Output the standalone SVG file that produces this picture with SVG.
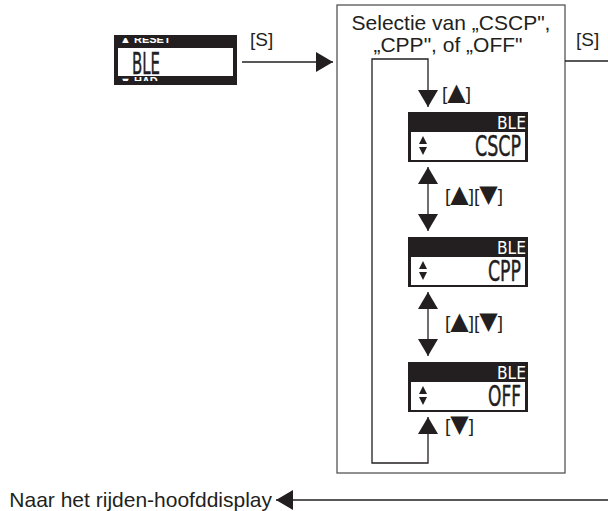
<svg xmlns="http://www.w3.org/2000/svg" width="608" height="511" viewBox="0 0 608 511">
<style>
.lbl{font-family:"Liberation Sans",Arial,sans-serif;font-size:19px;fill:#231f20}
.tri{font-family:"DejaVu Sans",sans-serif;font-size:24px}
.big{font-family:"Liberation Sans",Arial,sans-serif;font-size:21px;fill:#231f20}
.lcd{font-family:"Liberation Sans Narrow","DejaVu Sans Condensed",sans-serif;fill:#231f20;stroke:#231f20;stroke-width:0.45}
.hdr{font-family:"Liberation Sans Narrow","DejaVu Sans Condensed",sans-serif;fill:#fff;font-size:17px}
.strip{font-family:"Liberation Sans","DejaVu Sans",sans-serif;font-weight:bold;font-size:11px;fill:#fff}
.line{fill:none;stroke:#231f20;stroke-width:1.3}
.blk{fill:#231f20}
.wht{fill:#fff}
</style>
<defs>
<marker id="ah" markerUnits="userSpaceOnUse" markerWidth="17" markerHeight="20" viewBox="0 0 17 20" refX="17" refY="10" orient="auto-start-reverse">
<path d="M0,0 L17,10 L0,20 Z" fill="#231f20"/>
</marker>
<clipPath id="ctop"><rect x="114" y="38" width="123" height="5"/></clipPath>
<clipPath id="cbot"><rect x="114" y="76" width="123" height="5"/></clipPath>
</defs>
<rect width="608" height="511" fill="#fff"/>

<g id="selection-box">
<rect x="337" y="5" width="228" height="468" fill="#fff" stroke="#555" stroke-width="1.3"/>
<text class="big" x="451" y="30" text-anchor="middle">Selectie van „CSCP",</text>
<text class="big" x="448" y="52" text-anchor="middle">„CPP", of „OFF"</text>
</g>

<g id="display-ble">
<rect class="blk" x="114" y="35" width="123" height="50"/>
<rect class="wht" x="118" y="48" width="115" height="28"/>
<text class="strip" x="120" y="43" clip-path="url(#ctop)">▲ RESET</text>
<text class="strip" x="120" y="85" clip-path="url(#cbot)">▼ HAD</text>
<text class="lcd" x="132" y="74" font-size="30" textLength="28" lengthAdjust="spacingAndGlyphs">BLE</text>
</g>

<g id="display-cscp">
<rect class="blk" x="408" y="112" width="120" height="50"/>
<rect class="wht" x="411" y="132" width="114" height="28"/>
<text class="hdr" x="497" y="129" textLength="29" lengthAdjust="spacingAndGlyphs">BLE</text>
<polygon class="blk" points="419,144 423,136 427,144"/>
<polygon class="blk" points="419,147 427,147 423,155"/>
<text class="lcd" x="475" y="156" font-size="29" textLength="46" lengthAdjust="spacingAndGlyphs">CSCP</text>
</g>

<g id="display-cpp">
<rect class="blk" x="408" y="237" width="120" height="50"/>
<rect class="wht" x="411" y="257" width="114" height="28"/>
<text class="hdr" x="497" y="254" textLength="29" lengthAdjust="spacingAndGlyphs">BLE</text>
<polygon class="blk" points="419,269 423,261 427,269"/>
<polygon class="blk" points="419,272 427,272 423,280"/>
<text class="lcd" x="488" y="281" font-size="29" textLength="33" lengthAdjust="spacingAndGlyphs">CPP</text>
</g>

<g id="display-off">
<rect class="blk" x="408" y="362" width="120" height="50"/>
<rect class="wht" x="411" y="382" width="114" height="28"/>
<text class="hdr" x="497" y="379" textLength="29" lengthAdjust="spacingAndGlyphs">BLE</text>
<polygon class="blk" points="419,394 423,386 427,394"/>
<polygon class="blk" points="419,397 427,397 423,405"/>
<text class="lcd" x="488" y="406" font-size="29" textLength="33" lengthAdjust="spacingAndGlyphs">OFF</text>
</g>

<g id="connectors">
<path class="line" d="M242,62 H333" marker-end="url(#ah)"/>
<path class="line" d="M428,417 V463 H372 V59 H428 V107" marker-start="url(#ah)" marker-end="url(#ah)"/>
<path class="line" d="M428,167 V231" marker-start="url(#ah)" marker-end="url(#ah)"/>
<path class="line" d="M428,292 V356" marker-start="url(#ah)" marker-end="url(#ah)"/>
<path class="line" d="M565,61 H608"/>
<path class="line" d="M608,500 H276" marker-end="url(#ah)"/>
<text class="lbl" x="250" y="46">[S]</text>
<text class="lbl" x="576" y="46">[S]</text>
<text class="lbl" x="442" y="100">[<tspan class="tri">▲</tspan>]</text>
<text class="lbl" x="445" y="202">[<tspan class="tri">▲</tspan>][<tspan class="tri">▼</tspan>]</text>
<text class="lbl" x="445" y="329">[<tspan class="tri">▲</tspan>][<tspan class="tri">▼</tspan>]</text>
<text class="lbl" x="445" y="432">[<tspan class="tri">▼</tspan>]</text>
<text class="big" x="272" y="507" text-anchor="end">Naar het rijden-hoofddisplay</text>
</g>
</svg>
